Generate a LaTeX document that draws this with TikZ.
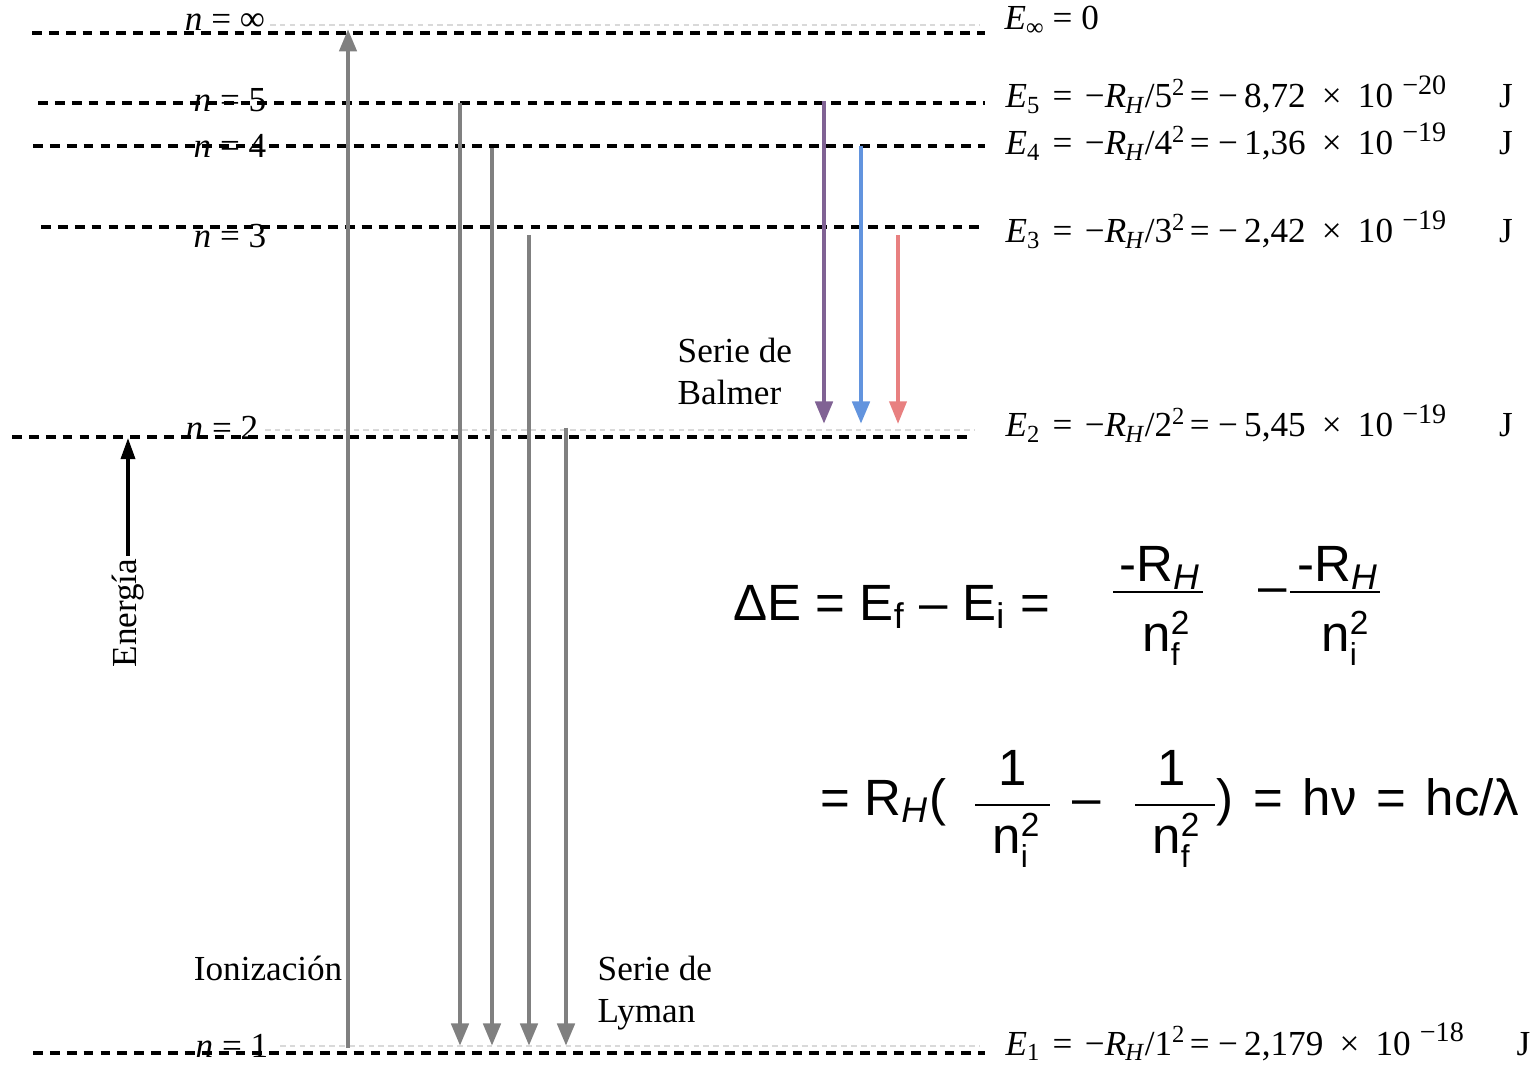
\documentclass[tikz,border=0pt]{standalone}
\usepackage{fontspec}
\setmainfont{Liberation Serif}
\newfontfamily\arialf{Liberation Sans}
\usetikzlibrary{arrows.meta}

\definecolor{gris}{RGB}{128,128,128}
\definecolor{violeta}{RGB}{128,98,148}
\definecolor{azul}{RGB}{98,148,222}
\definecolor{rojo}{RGB}{232,128,128}

\tikzset{
  nivel/.style={black, line width=0.9pt, dash pattern=on 2.8pt off 2pt},
  nivelfino/.style={gray!30, line width=0.6pt, dash pattern=on 1.6pt off 1.2pt},
  flecha/.style={line width=1.4pt, -{Triangle[width=4.8pt,length=6.4pt]}},
  etq/.style={font=\fontsize{10}{12}\selectfont, inner sep=0pt},
  frm/.style={font=\arialf\fontsize{14.5}{17}\selectfont, inner sep=0pt},
  barra/.style={line width=0.85pt},
}
\newcommand{\nsub}[1]{n\rlap{\raisebox{-0.55ex}{\fontsize{9}{9}\selectfont #1}}\raisebox{0.62ex}{\fontsize{9.5}{9.5}\selectfont 2}}
\newcommand{\nivE}[4]{\textit{E}\textsubscript{#1}\hspace{3.2pt}=\hspace{3.6pt}−\textit{R}\kern-0.3pt\textsubscript{\textit{H}}\kern-0.3pt/#2\textsuperscript{2}\hspace{1pt}=\hspace{2.4pt}−\hspace{1.8pt}#3\hspace{4.6pt}×\hspace{4.6pt}10\hspace{2.6pt}\raisebox{0.85ex}{\fontsize{8}{8}\selectfont −#4}\hspace{15pt}J}

\begin{document}
\begin{tikzpicture}[x=0.01cm, y=-0.01cm]
        \useasboundingbox (0,0) rectangle (1539,1067);
        \def\yInf{33}
        \def\yV{103}
        \def\yIV{146}
        \def\yIII{227}
        \def\yII{437}
        \def\yI{1053}
        % 能级虚线
        \draw[nivel] (32,\yInf) -- (985,\yInf);
        \draw[nivel] (38,\yV) -- (985,\yV);
        \draw[nivel] (33,\yIV) -- (985,\yIV);
        \draw[nivel] (41,\yIII) -- (985,\yIII);
        \draw[nivel] (12,\yII) -- (970,\yII);
        \draw[nivel] (33,\yI) -- (985,\yI);
        \draw[nivelfino] (270,\yInf-8) -- (980,\yInf-8);
        \draw[nivelfino] (265,\yII-7) -- (975,\yII-7);
        \draw[nivelfino] (280,\yI-7) -- (980,\yI-7);
        % 左侧 n 标签
        \node[etq] (nInf) at (225,22) {\textit{n} = ∞};
        \node[etq] (n5) at (230,100) {\textit{n} = 5};
        \node[etq] (n4) at (230,146) {\textit{n} = 4};
        \node[etq] (n3) at (230,236) {\textit{n} = 3};
        \node[etq] (n2) at (222,428) {\textit{n} = 2};
        \node[etq] (n1) at (232,1046) {\textit{n} = 1};
        % 右侧能量标签
        \node[etq, anchor=base west] (eInf) at (1004,30) {\textit{E}\textsubscript{∞}\hspace{2pt}=\hspace{2.6pt}0};
        \node[etq, anchor=base west] (e5) at (1005,108) {\nivE{5}{5}{8,72}{20}};
        \node[etq, anchor=base west] (e4) at (1005,155) {\nivE{4}{4}{1,36}{19}};
        \node[etq, anchor=base west] (e3) at (1005,243) {\nivE{3}{3}{2,42}{19}};
        \node[etq, anchor=base west] (e2) at (1005,437) {\nivE{2}{2}{5,45}{19}};
        \node[etq, anchor=base west] (e1) at (1005,1055) {\nivE{1}{1}{2,179}{18}};
        % 电离与莱曼系
        \coordinate (ion1) at (348,1048);
        \coordinate (ionInf) at (348,\yInf-4);
        \draw[flecha, gris] (ion1) -- (ionInf);
        \coordinate (ly5) at (460,\yV);
        \coordinate (ly4) at (492,\yIV+2);
        \coordinate (ly3) at (529,\yIII+8);
        \coordinate (ly2) at (566,\yII-9);
        \coordinate (ly5b) at (460,1046);
        \coordinate (ly4b) at (492,1046);
        \coordinate (ly3b) at (529,1046);
        \coordinate (ly2b) at (566,1046);
        \draw[flecha, gris] (ly5) -- (ly5b);
        \draw[flecha, gris] (ly4) -- (ly4b);
        \draw[flecha, gris] (ly3) -- (ly3b);
        \draw[flecha, gris] (ly2) -- (ly2b);
        \node[etq, anchor=base east] (ion) at (343,980) {Ionización};
        \node[etq, anchor=north west, align=left] (lyman) at (597,955) {Serie de\\Lyman};
        % 巴耳末系
        \coordinate (ba5) at (824,\yV-2);
        \coordinate (ba4) at (861,\yIV);
        \coordinate (ba3) at (898,\yIII+8);
        \coordinate (ba5b) at (824,424);
        \coordinate (ba4b) at (861,424);
        \coordinate (ba3b) at (898,424);
        \draw[flecha, violeta] (ba5) -- (ba5b);
        \draw[flecha, azul] (ba4) -- (ba4b);
        \draw[flecha, rojo, line width=1.1pt] (ba3) -- (ba3b);
        \node[etq, anchor=north west, align=left] (balmer) at (677,337) {Serie de\\Balmer};
        % 能量轴
        \coordinate (enA) at (128,556);
        \coordinate (enB) at (128,438);
        \draw[line width=0.95pt, -{Triangle[width=4pt,length=6pt]}] (enA) -- (enB);
        \node[etq, rotate=90] (energia) at (128,613) {Energía};
        % 公式
        \node[frm, anchor=base west] (dE) at (733,620) {ΔE = E\textsubscript{f} – E\textsubscript{i} =};
        \node[frm, anchor=base] (num1) at (1160,582) {-R\textsubscript{\textit{H}}};
        \node[frm, anchor=base] (den1) at (1166,651) {\nsub{f}};
        \draw[barra] (1113,592) -- (1203,592);
        \node[frm] (menos1) at (1273,596) {–};
        \node[frm, anchor=base] (num2) at (1338,582) {-R\textsubscript{\textit{H}}};
        \node[frm, anchor=base] (den2) at (1345,651) {\nsub{i}};
        \draw[barra] (1290,592) -- (1380,592);
        \node[frm, anchor=base west] (rh) at (820,815) {= R\textsubscript{\textit{H}}(};
        \node[frm, anchor=base] (num3) at (1013,785) {1};
        \node[frm, anchor=base] (den3) at (1016,853) {\nsub{i}};
        \draw[barra] (975,805) -- (1050,805);
        \node[frm] (menos2) at (1087,808) {–};
        \node[frm, anchor=base] (num4) at (1172,785) {1};
        \node[frm, anchor=base] (den4) at (1176,853) {\nsub{f}};
        \draw[barra] (1135,805) -- (1215,805);
        \node[frm, anchor=base west] (hc) at (1216,815) {)\hspace{5.6pt}=\hspace{5.6pt}hν\hspace{5.6pt}=\hspace{5.6pt}hc/λ};
\end{tikzpicture}
\end{document}
